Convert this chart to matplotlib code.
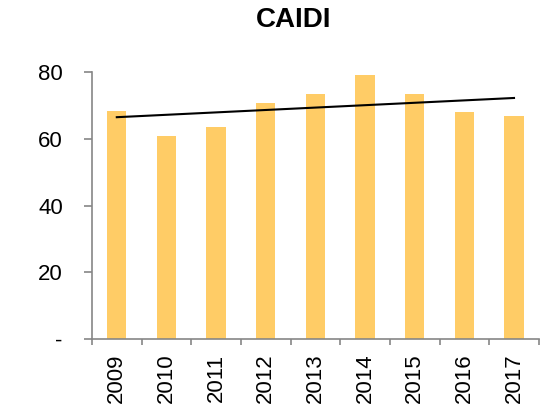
import numpy as np
import matplotlib
matplotlib.use('Agg')
import matplotlib.pyplot as plt

plt.rcParams['font.family'] = ['Liberation Sans', 'DejaVu Sans']

years = ['2009', '2010', '2011', '2012', '2013', '2014', '2015', '2016', '2017']
caidi = [68.3, 60.9, 63.6, 70.8, 73.4, 79.1, 73.4, 68.0, 66.8]
ytick_vals = [0, 20, 40, 60, 80]
ytick_labels = ['-', '20', '40', '60', '80']

fig = plt.figure(figsize=(5.41, 4.12), dpi=100)
ax = fig.add_axes([0.170, 0.177, 0.826, 0.648])

x = np.arange(len(years))
ax.bar(x, caidi, width=0.39, color='#FFCC66', zorder=2)

# linear trendline like Excel
k, b = np.polyfit(x, caidi, 1)
ax.plot([x[0], x[-1]], [k * x[0] + b, k * x[-1] + b], color='black', lw=1.5, zorder=3)

ax.set_xlim(-0.5, len(years) - 0.5)
ax.set_ylim(0, 80)
ax.set_yticks(ytick_vals)
ax.set_yticklabels(ytick_labels, fontsize=16)

ax.set_xticks(np.arange(len(years) + 1) - 0.5)
ax.set_xticklabels([])
ax.set_xticks(x, minor=True)
ax.set_xticklabels(years, minor=True, rotation=90, fontsize=16)
ax.tick_params(axis='x', which='major', length=4, width=1.2, color='#868686', direction='out')
ax.tick_params(axis='x', which='minor', length=0, pad=10.5)
ax.tick_params(axis='y', length=6, width=1.2, color='#868686', pad=15)

for s in ['top', 'right']:
    ax.spines[s].set_visible(False)
for s in ['left', 'bottom']:
    ax.spines[s].set_color('#868686')
    ax.spines[s].set_linewidth(1.2)

fig.text(0.543, 0.951, 'CAIDI', ha='center', va='center', fontsize=20, fontweight='bold')

fig.savefig('out.png', dpi=100)
